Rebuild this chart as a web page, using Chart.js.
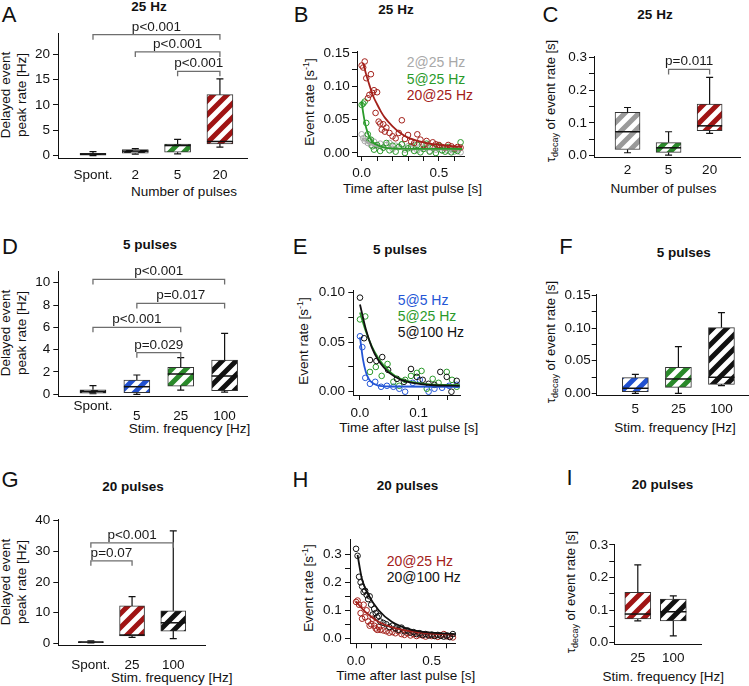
<!DOCTYPE html>
<html><head><meta charset="utf-8">
<script src="https://cdn.jsdelivr.net/npm/chart.js@4.4.1/dist/chart.umd.min.js"></script>
<style>
html,body{margin:0;padding:0;background:#fff;}
#fig{position:relative;width:749px;height:686px;overflow:hidden;background:#fff;font-family:"Liberation Sans",Arial,Helvetica,sans-serif;color:#111;}
#fig canvas{position:absolute;}
.t{position:absolute;white-space:nowrap;line-height:1;transform:translate(-50%,-50%);}
.L{font-size:22px;}
.T{font-size:13.5px;font-weight:bold;}
.X{font-size:13.5px;}
.R{font-size:13.5px;transform:translate(-50%,-50%) rotate(-90deg);}
.R2{font-size:13.5px;line-height:16px;text-align:center;transform:translate(-50%,-50%) rotate(-90deg);}
.tau{font-size:13px;}
.g{position:absolute;white-space:nowrap;font-size:14px;line-height:1;transform:translate(0,-50%);}
.sub{font-size:9px;position:relative;top:3px;}
.sup{font-size:9px;position:relative;top:-5px;}
</style></head><body><div id="fig">
<div class="t L" style="left:9px;top:15px">A</div>
<div class="t L" style="left:301px;top:15px">B</div>
<div class="t L" style="left:550.5px;top:15px">C</div>
<div class="t L" style="left:10px;top:247px">D</div>
<div class="t L" style="left:300px;top:247px">E</div>
<div class="t L" style="left:566px;top:247px">F</div>
<div class="t L" style="left:10px;top:480px">G</div>
<div class="t L" style="left:300.5px;top:480px">H</div>
<div class="t L" style="left:569.5px;top:478px">I</div>

<div class="t T" style="left:149px;top:7px">25 Hz</div>
<div class="t T" style="left:396px;top:9.5px">25 Hz</div>
<div class="t T" style="left:655px;top:14.5px">25 Hz</div>
<div class="t T" style="left:150px;top:244.5px">5 pulses</div>
<div class="t T" style="left:400px;top:249.5px">5 pulses</div>
<div class="t T" style="left:683.7px;top:252.7px">5 pulses</div>
<div class="t T" style="left:133px;top:486.5px">20 pulses</div>
<div class="t T" style="left:407.5px;top:485.7px">20 pulses</div>
<div class="t T" style="left:662.5px;top:485px">20 pulses</div>

<div class="t X" style="left:184px;top:191.5px">Number of pulses</div>
<div class="t X" style="left:412.5px;top:189px">Time after last pulse [s]</div>
<div class="t X" style="left:663.5px;top:189px">Number of pulses</div>
<div class="t X" style="left:189.5px;top:429px">Stim. frequency [Hz]</div>
<div class="t X" style="left:408.8px;top:428px">Time after last pulse [s]</div>
<div class="t X" style="left:675px;top:428px">Stim. frequency [Hz]</div>
<div class="t X" style="left:171.7px;top:678px">Stim. frequency [Hz]</div>
<div class="t X" style="left:405.8px;top:676px">Time after last pulse [s]</div>
<div class="t X" style="left:663.3px;top:677px">Stim. frequency [Hz]</div>

<div class="t R2" style="left:14px;top:95px">Delayed event<br>peak rate [Hz]</div>
<div class="t R2" style="left:14px;top:333px">Delayed event<br>peak rate [Hz]</div>
<div class="t R2" style="left:14px;top:581.5px">Delayed event<br>peak rate [Hz]</div>
<div class="t R" style="left:309.5px;top:101.7px">Event rate [s<span class="sup">-1</span>]</div>
<div class="t R" style="left:304px;top:341px">Event rate [s<span class="sup">-1</span>]</div>
<div class="t R" style="left:309px;top:587.5px">Event rate [s<span class="sup">-1</span>]</div>
<div class="t R tau" style="left:550px;top:101px">τ<span class="sub">decay</span> of event rate [s]</div>
<div class="t R tau" style="left:550px;top:342px">τ<span class="sub">decay</span> of event rate [s]</div>
<div class="t R tau" style="left:569.5px;top:592px">τ<span class="sub">decay</span> of event rate [s]</div>

<div class="g" style="left:406.7px;top:62px;color:#a8a8a8">2@25 Hz</div>
<div class="g" style="left:406.7px;top:79px;color:#2a9a2a">5@25 Hz</div>
<div class="g" style="left:406.7px;top:95px;color:#a3201a">20@25 Hz</div>
<div class="g" style="left:397.7px;top:300px;color:#2456d6">5@5 Hz</div>
<div class="g" style="left:397.7px;top:316px;color:#2a9a2a">5@25 Hz</div>
<div class="g" style="left:397.7px;top:332px;color:#111">5@100 Hz</div>
<div class="g" style="left:386.7px;top:560.5px;color:#a3201a">20@25 Hz</div>
<div class="g" style="left:386.7px;top:577px;color:#111">20@100 Hz</div>
</div>
<script>
// ================= DATA =================
// Panel A: 25 Hz, number of pulses
const aCats = ['Spont.', '2', '5', '20'];
const aQ1 = [0.1, 0.5, 0.7, 2.3];
const aQ3 = [0.45, 1.2, 2.3, 12.0];
const aMed = [0.3, 0.9, 2.0, 2.8];
const aLo = [0.0, 0.3, 0.35, 1.7];
const aHi = [0.8, 1.4, 3.2, 15.1];
const aSigFrom = [0, 1, 2], aSigTo = [3, 3, 3];
const aSigLevel = [23.8, 20.4, 16.6];
const aSigText = ['p<0.001', 'p<0.001', 'p<0.001'];
const aYTicks = [0, 5, 10, 15, 20];
const aYLabels = ['0', '5', '10', '15', '20'];

// Panel B: event rate, 25 Hz
const bRedT = [0.00,0.01,0.02,0.03,0.04,0.05,0.06,0.07,0.08,0.09,0.10,0.11,0.12,0.13,0.14,0.15,0.16,0.18,0.20,0.22,0.24,0.26,0.28,0.30,0.32,0.34,0.36,0.38,0.40,0.42,0.44,0.46,0.48,0.50,0.52,0.54,0.56,0.58,0.60,0.62,0.64];
const bRedY = [0.131,0.128,0.137,0.112,0.082,0.087,0.118,0.090,0.094,0.060,0.091,0.047,0.044,0.035,0.043,0.032,0.038,0.030,0.025,0.022,0.030,0.049,0.021,0.027,0.017,0.015,0.028,0.020,0.012,0.018,0.010,0.016,0.013,0.012,0.009,0.008,0.012,0.010,0.007,0.009,0.008];
const bGreenT = [0.00,0.01,0.02,0.03,0.04,0.05,0.06,0.07,0.08,0.10,0.12,0.14,0.16,0.18,0.20,0.22,0.24,0.26,0.28,0.30,0.32,0.34,0.36,0.38,0.40,0.42,0.44,0.46,0.48,0.50,0.52,0.54,0.56,0.58,0.60,0.62,0.64];
const bGreenY = [0.072,0.074,0.077,0.045,0.028,0.018,0.020,0.010,0.005,0.012,0.003,0.008,0.015,0.004,0.011,0.002,0.009,0.013,0.000,0.007,0.010,0.003,0.012,0.001,0.006,0.014,0.002,0.008,0.000,0.011,0.004,0.002,0.009,0.001,0.005,0.003,0.016];
const bGrayT = [0.00,0.01,0.02,0.03,0.04,0.05,0.06,0.08,0.10,0.12,0.14,0.16,0.18,0.20,0.22,0.24,0.26,0.28,0.30,0.32,0.34,0.36,0.38,0.40,0.42,0.44,0.46,0.48,0.50,0.52,0.54,0.56,0.58,0.60,0.62,0.64];
const bGrayY = [0.028,0.022,0.018,0.025,0.015,0.020,0.012,0.017,0.010,0.014,0.008,0.012,0.015,0.006,0.011,0.009,0.013,0.005,0.010,0.007,0.012,0.004,0.009,0.006,0.011,0.003,0.008,0.005,0.010,0.004,0.007,0.003,0.006,0.002,0.005,0.001];
const bRedFitT = [0.01,0.03,0.05,0.075,0.10,0.125,0.15,0.20,0.25,0.30,0.35,0.40,0.50,0.65];
const bRedFitY = [0.135,0.117,0.102,0.085,0.073,0.062,0.053,0.040,0.030,0.023,0.019,0.016,0.012,0.009];
const bGreenFitT = [0.00,0.01,0.02,0.03,0.045,0.06,0.08,0.11,0.15,0.25,0.65];
const bGreenFitY = [0.077,0.060,0.047,0.037,0.027,0.020,0.015,0.011,0.008,0.0065,0.006];
const bGrayFitT = [0.00,0.05,0.10,0.20,0.30,0.65];
const bGrayFitY = [0.022,0.014,0.010,0.007,0.006,0.005];
const bXTicks = [0.0,0.1,0.2,0.3,0.4,0.5,0.6], bXLabels = ['0.0','','','','','0.5',''];
const bYTicks = [0,0.025,0.05,0.075,0.1,0.125,0.15], bYLabels = ['0.00','','0.05','','0.10','','0.15'];

// Panel C: tau decay, 25 Hz
const cCats = ['2', '5', '20'];
const cQ1 = [0.019, 0.010, 0.076];
const cQ3 = [0.132, 0.040, 0.157];
const cMed = [0.073, 0.024, 0.091];
const cLo = [0.009, 0.002, 0.068];
const cHi = [0.147, 0.073, 0.239];
const cSigFrom = [1], cSigTo = [2], cSigLevel = [0.263], cSigText = ['p=0.011'];
const cYTicks = [0,0.05,0.1,0.15,0.2,0.25,0.3], cYLabels = ['0.0','','0.1','','0.2','','0.3'];

// Panel D: 5 pulses, stim. frequency
const dCats = ['Spont.', '5', '25', '100'];
const dQ1 = [0.1, 0.15, 0.74, 0.33];
const dQ3 = [0.4, 1.28, 2.42, 3.07];
const dMed = [0.25, 0.68, 1.82, 1.64];
const dLo = [0.05, 0.0, 0.38, 0.2];
const dHi = [0.77, 1.73, 3.28, 5.46];
const dSigFrom = [0, 1, 0, 1], dSigTo = [3, 3, 2, 2];
const dSigLevel = [10.3, 8.15, 6.0, 3.73];
const dSigText = ['p<0.001', 'p=0.017', 'p<0.001', 'p=0.029'];
const dYTicks = [0, 2, 4, 6, 8, 10], dYLabels = ['0','2','4','6','8','10'];

// Panel E: event rate, 5 pulses
const eBlackT = [0.000,0.007,0.017,0.028,0.038,0.048,0.063,0.075,0.087,0.097,0.107,0.117,0.127,0.137,0.148,0.156,0.165];
const eBlackY = [0.095,0.054,0.032,0.031,0.035,0.022,0.013,0.010,0.023,0.015,0.012,0.008,0.007,0.020,0.015,0.000,0.011];
const eGreenT = [0.000,0.009,0.017,0.027,0.037,0.047,0.057,0.067,0.077,0.087,0.097,0.105,0.114,0.124,0.134,0.148,0.157,0.165];
const eGreenY = [0.073,0.076,0.020,0.025,0.016,0.028,0.010,0.006,0.012,0.016,0.019,0.021,0.003,0.013,0.009,0.020,0.012,0.005];
const eBlueT = [0.000,0.004,0.009,0.017,0.026,0.036,0.046,0.057,0.067,0.077,0.090,0.102,0.117,0.127,0.140,0.152,0.165];
const eBlueY = [0.056,0.045,0.014,0.008,0.010,0.005,0.006,0.005,0.003,0.000,0.009,0.012,0.000,0.003,0.004,0.006,0.007];
const eBlackFitT = [0,0.01,0.02,0.03,0.04,0.05,0.07,0.09,0.12,0.17];
const eBlackFitY = [0.088,0.063,0.045,0.033,0.025,0.019,0.012,0.009,0.0068,0.006];
const eGreenFitT = [0,0.01,0.02,0.03,0.04,0.06,0.08,0.11,0.17];
const eGreenFitY = [0.080,0.061,0.046,0.035,0.027,0.016,0.011,0.008,0.0065];
const eBlueFitT = [0,0.005,0.01,0.015,0.02,0.03,0.05,0.17];
const eBlueFitY = [0.055,0.033,0.020,0.013,0.0095,0.0065,0.0053,0.005];
const eXTicks = [0,0.05,0.1,0.15], eXLabels = ['0.0','','0.1',''];
const eYTicks = [0,0.025,0.05,0.075,0.1], eYLabels = ['0.00','','0.05','','0.10'];

// Panel F: tau decay, 5 pulses
const fCats = ['5', '25', '100'];
const fQ1 = [0.0025, 0.0092, 0.0138];
const fQ3 = [0.024, 0.040, 0.101];
const fMed = [0.0077, 0.022, 0.0246];
const fLo = [0.0, 0.0, 0.0117];
const fHi = [0.029, 0.0717, 0.124];
const fYTicks = [0,0.025,0.05,0.075,0.1,0.125,0.15], fYLabels = ['0.00','','0.05','','0.10','','0.15'];

// Panel G: 20 pulses, stim. frequency
const gCats = ['Spont.', '25', '100'];
const gQ1 = [0.2, 2.4, 4.0];
const gQ3 = [0.6, 12.2, 10.6];
const gMed = [0.4, 2.7, 6.7];
const gLo = [0.1, 1.96, 1.5];
const gHi = [0.8, 15.2, 36.7];
const gSigFrom = [0, 0], gSigTo = [2, 1], gSigLevel = [32.8, 26.9], gSigText = ['p<0.001', 'p=0.07'];
const gYTicks = [0, 10, 20, 30, 40], gYLabels = ['0','10','20','30','40'];

// Panel H: event rate, 20 pulses
const hBlackT = [0.00,0.01,0.02,0.03,0.04,0.05,0.06,0.07,0.08,0.09,0.10,0.11,0.12,0.13,0.14,0.15,0.16,0.18,0.20,0.22,0.24,0.26,0.28,0.30,0.32,0.34,0.36,0.38,0.40,0.42,0.44,0.46,0.48,0.50,0.52,0.54,0.56,0.58,0.60,0.62,0.64];
const hBlackY = [0.320,0.295,0.220,0.200,0.185,0.165,0.170,0.155,0.140,0.150,0.120,0.085,0.105,0.090,0.075,0.080,0.060,0.055,0.050,0.040,0.045,0.035,0.030,0.038,0.025,0.028,0.020,0.022,0.015,0.018,0.012,0.015,0.010,0.013,0.008,0.012,0.009,0.006,0.010,0.004,0.015];
const hRedT = [0.00,0.01,0.02,0.03,0.04,0.05,0.06,0.07,0.08,0.09,0.10,0.11,0.12,0.13,0.14,0.15,0.16,0.18,0.20,0.22,0.24,0.26,0.28,0.30,0.32,0.34,0.36,0.38,0.40,0.42,0.44,0.46,0.48,0.50,0.52,0.54,0.56,0.58,0.60,0.62,0.64];
const hRedY = [0.130,0.135,0.120,0.090,0.070,0.120,0.075,0.100,0.060,0.045,0.050,0.070,0.045,0.035,0.030,0.040,0.030,0.028,0.025,0.020,0.022,0.018,0.025,0.015,0.012,0.018,0.010,0.015,0.008,0.012,0.010,0.006,0.012,0.008,0.010,0.005,0.009,0.015,0.007,0.006,0.003];
const hBlackFitT = [0.01,0.038,0.082,0.148,0.236,0.368,0.50,0.654];
const hBlackFitY = [0.298,0.214,0.155,0.101,0.059,0.030,0.020,0.015];
const hRedFitT = [0.0,0.03,0.06,0.10,0.148,0.20,0.258,0.35,0.478,0.65];
const hRedFitY = [0.132,0.112,0.095,0.077,0.059,0.046,0.036,0.026,0.018,0.014];
const hXTicks = [0.0,0.1,0.2,0.3,0.4,0.5,0.6], hXLabels = ['0.0','','','','','0.5',''];
const hYTicks = [0,0.05,0.1,0.15,0.2,0.25,0.3], hYLabels = ['0.0','','0.1','','0.2','','0.3'];

// Panel I: tau decay, 20 pulses
const iCats = ['25', '100'];
const iQ1 = [0.073, 0.067];
const iQ3 = [0.155, 0.134];
const iMed = [0.088, 0.095];
const iLo = [0.067, 0.021];
const iHi = [0.239, 0.144];
const iYTicks = [0,0.05,0.1,0.15,0.2,0.25,0.3], iYLabels = ['0.0','','0.1','','0.2','','0.3'];

// ================= STYLE / LAYOUT =================
const FF = '"Liberation Sans", Arial, sans-serif';
const RED = '#a3201a', GREEN = '#2a9a2a', GRAY = '#a8a8a8', BLUE = '#2456d6', BLACK = '#111111';
const BOXRED = '#a01414', BOXGREEN = '#2a8a2a', BOXBLUE = '#2050d0', BOXGRAY = '#9a9a9a';
Chart.defaults.font.family = FF;
Chart.defaults.font.size = 13.5;
Chart.defaults.color = '#111';

const GEO = {
  A: {canvas: [0, 0, 250, 205], area: [58, 33, 247, 158]},
  B: {canvas: [250, 0, 500, 205], area: [357, 51.5, 464, 156]},
  C: {canvas: [500, 0, 749, 205], area: [594, 56, 740, 157]},
  D: {canvas: [0, 205, 250, 440], area: [58.3, 271.7, 247, 396.7]},
  E: {canvas: [250, 205, 500, 440], area: [353.3, 290, 460, 395]},
  F: {canvas: [500, 205, 749, 440], area: [596.7, 294, 749, 395.3]},
  G: {canvas: [0, 440, 250, 686], area: [58.3, 519.3, 205, 645]},
  H: {canvas: [250, 440, 500, 686], area: [350, 539.3, 455, 643.3]},
  I: {canvas: [500, 440, 749, 686], area: [614.3, 544, 701.7, 644]}
};

function makeCanvas(id, c) {
  const cv = document.createElement('canvas');
  cv.id = id;
  cv.width = c[2] - c[0]; cv.height = c[3] - c[1];
  cv.style.left = c[0] + 'px'; cv.style.top = c[1] + 'px';
  cv.style.width = cv.width + 'px'; cv.style.height = cv.height + 'px';
  document.getElementById('fig').appendChild(cv);
  return cv;
}

function stripes(color) {
  const s = 14;
  const c = document.createElement('canvas');
  c.width = s; c.height = s;
  const g = c.getContext('2d');
  g.fillStyle = '#fff'; g.fillRect(0, 0, s, s);
  g.strokeStyle = color; g.lineWidth = 5; g.lineCap = 'square';
  g.beginPath();
  g.moveTo(-s / 2, s / 2); g.lineTo(s / 2, -s / 2);
  g.moveTo(0, s); g.lineTo(s, 0);
  g.moveTo(s / 2, s * 1.5); g.lineTo(s * 1.5, s / 2);
  g.stroke();
  return g.createPattern(c, 'repeat');
}

function baseOpts(g) {
  return {
    responsive: false, animation: false, devicePixelRatio: 1, events: [],
    layout: {padding: {left: 0, top: g.area[1] - g.canvas[1], right: g.canvas[2] - g.area[2], bottom: 0}},
    plugins: {legend: {display: false}, tooltip: {enabled: false}, title: {display: false}}
  };
}

function yAxis(g, range, vals, labels, pad) {
  return {
    type: 'linear', min: range[0], max: range[1],
    afterBuildTicks: s => { s.ticks = vals.map(v => ({value: v})); },
    ticks: {autoSkip: false, padding: pad, color: '#111', font: {size: 13.5, family: FF},
      callback: v => { const k = vals.indexOf(v); return k < 0 ? '' : labels[k]; }},
    grid: {drawOnChartArea: false, drawTicks: true, tickLength: 5, color: '#111', lineWidth: 1},
    border: {display: true, color: '#111', width: 1},
    afterFit: s => { s.width = g.area[0] - g.canvas[0]; }
  };
}

function boxPanel(id, g, d, ax) {
  const cv = makeCanvas(id, g.canvas);
  const data = d.cats.map((c, i) => ({x: i, y: [d.q1[i], d.q3[i]]}));
  const extras = {
    id: 'boxExtras',
    afterDatasetsDraw(chart) {
      const ctx = chart.ctx, xs = chart.scales.x, ys = chart.scales.y;
      const meta = chart.getDatasetMeta(0);
      ctx.save();
      ctx.strokeStyle = '#111';
      d.cats.forEach((c, i) => {
        const bar = meta.data[i];
        const x = bar.x, hw = bar.width / 2;
        const yq1 = ys.getPixelForValue(d.q1[i]), yq3 = ys.getPixelForValue(d.q3[i]);
        const yl = ys.getPixelForValue(d.lo[i]), yh = ys.getPixelForValue(d.hi[i]);
        const ym = ys.getPixelForValue(d.med[i]);
        ctx.lineWidth = 1.2;
        ctx.beginPath();
        ctx.moveTo(x, Math.min(yq1, yq3)); ctx.lineTo(x, yh);
        ctx.moveTo(x - 3.5, yh); ctx.lineTo(x + 3.5, yh);
        ctx.moveTo(x, Math.max(yq1, yq3)); ctx.lineTo(x, yl);
        ctx.moveTo(x - 3.5, yl); ctx.lineTo(x + 3.5, yl);
        ctx.stroke();
        ctx.lineWidth = 1.5;
        ctx.beginPath(); ctx.moveTo(x - hw, ym); ctx.lineTo(x + hw, ym); ctx.stroke();
      });
      if (d.sig) {
        ctx.strokeStyle = '#6e6e6e'; ctx.lineWidth = 1.3;
        ctx.fillStyle = '#1a1a1a'; ctx.font = '13.5px ' + FF;
        ctx.textAlign = 'center'; ctx.textBaseline = 'alphabetic';
        d.sig.from.forEach((f, k) => {
          const x1 = xs.getPixelForValue(f), x2 = xs.getPixelForValue(d.sig.to[k]);
          const y = ys.getPixelForValue(d.sig.level[k]);
          ctx.beginPath();
          ctx.moveTo(x1, y + 5); ctx.lineTo(x1, y); ctx.lineTo(x2, y); ctx.lineTo(x2, y + 5);
          ctx.stroke();
          ctx.fillText(d.sig.text[k], (x1 + x2) / 2, y - 4);
        });
      }
      ctx.restore();
    }
  };
  const opts = baseOpts(g);
  opts.scales = {
    x: {
      type: 'linear', min: ax.x[0], max: ax.x[1], offset: false,
      afterBuildTicks: s => { s.ticks = d.cats.map((c, i) => ({value: i})); },
      ticks: {autoSkip: false, maxRotation: 0, minRotation: 0, padding: ax.xPad, color: '#111',
        font: ax.drop ? {size: 13.5, family: FF, lineHeight: '10px'} : {size: 13.5, family: FF},
        callback: v => ax.drop ? (v === 0 ? [d.cats[v]] : ['', d.cats[v]]) : d.cats[v]},
      grid: {display: false, drawTicks: false, tickLength: 0, offset: false},
      border: {display: true, color: '#111', width: 1},
      afterFit: s => { s.height = g.canvas[3] - g.area[3]; }
    },
    y: yAxis(g, ax.y, ax.yTicks, ax.yLabels, ax.yPad)
  };
  new Chart(cv, {
    type: 'bar',
    data: {datasets: [{
      data: data,
      backgroundColor: d.colors.map(stripes),
      borderColor: '#333', borderWidth: 1, borderSkipped: false,
      barThickness: ax.barW, clip: false
    }]},
    options: opts,
    plugins: [extras]
  });
}

function scatterPanel(id, g, series, ax) {
  const cv = makeCanvas(id, g.canvas);
  const ds = [];
  series.forEach((s, k) => {
    ds.push({label: s.name + ' fit', data: s.fitT.map((t, i) => ({x: t, y: s.fitY[i]})),
      showLine: true, borderColor: s.color, borderWidth: 1.8, pointRadius: 0,
      cubicInterpolationMode: 'monotone', fill: false, clip: false, order: 0});
    ds.push({label: s.name, data: s.t.map((t, i) => ({x: t, y: s.y[i]})),
      showLine: false, pointRadius: 2.8, pointBorderColor: s.color,
      pointBackgroundColor: 'rgba(255,255,255,0)', pointBorderWidth: 1, clip: false, order: k + 1});
  });
  const opts = baseOpts(g);
  opts.scales = {
    x: {
      type: 'linear', min: ax.x[0], max: ax.x[1],
      afterBuildTicks: s => { s.ticks = ax.xTicks.map(v => ({value: v})); },
      ticks: {autoSkip: false, maxRotation: 0, padding: ax.xPad, color: '#111', font: {size: 13.5, family: FF},
        callback: v => { const k = ax.xTicks.indexOf(v); return k < 0 ? '' : ax.xLabels[k]; }},
      grid: {drawOnChartArea: false, drawTicks: true, tickLength: 5, color: '#111'},
      border: {display: true, color: '#111', width: 1},
      afterFit: s => { s.height = g.canvas[3] - g.area[3]; }
    },
    y: yAxis(g, ax.y, ax.yTicks, ax.yLabels, ax.yPad)
  };
  new Chart(cv, {type: 'scatter', data: {datasets: ds}, options: opts});
}

// ================= BUILD =================
boxPanel('cA', GEO.A,
  {cats: aCats, q1: aQ1, q3: aQ3, med: aMed, lo: aLo, hi: aHi,
   colors: [BLACK, BLACK, BOXGREEN, BOXRED],
   sig: {from: aSigFrom, to: aSigTo, level: aSigLevel, text: aSigText}},
  {x: [-0.827, 3.64], y: [-0.45, 24.13], yTicks: aYTicks, yLabels: aYLabels, xPad: 8.9, yPad: 3, barW: 26});

scatterPanel('cB', GEO.B, [
  {name: '20@25 Hz', t: bRedT, y: bRedY, fitT: bRedFitT, fitY: bRedFitY, color: RED},
  {name: '5@25 Hz', t: bGreenT, y: bGreenY, fitT: bGreenFitT, fitY: bGreenFitY, color: GREEN},
  {name: '2@25 Hz', t: bGrayT, y: bGrayY, fitT: bGrayFitT, fitY: bGrayFitY, color: GRAY}
], {x: [-0.030, 0.662], y: [-0.0045, 0.152], xTicks: bXTicks, xLabels: bXLabels,
    yTicks: bYTicks, yLabels: bYLabels, xPad: 4.2, yPad: 2.3});

boxPanel('cC', GEO.C,
  {cats: cCats, q1: cQ1, q3: cQ3, med: cMed, lo: cLo, hi: cHi,
   colors: [BOXGRAY, BOXGREEN, BOXRED],
   sig: {from: cSigFrom, to: cSigTo, level: cSigLevel, text: cSigText}},
  {x: [-0.817, 2.74], y: [-0.004, 0.304], yTicks: cYTicks, yLabels: cYLabels, xPad: 4.9, yPad: 2, barW: 25});

boxPanel('cD', GEO.D,
  {cats: dCats, q1: dQ1, q3: dQ3, med: dMed, lo: dLo, hi: dHi,
   colors: [BLACK, BOXBLUE, BOXGREEN, BLACK],
   sig: {from: dSigFrom, to: dSigTo, level: dSigLevel, text: dSigText}},
  {x: [-0.79, 3.51], y: [-0.215, 10.99], yTicks: dYTicks, yLabels: dYLabels, xPad: 5, yPad: 3, barW: 26, drop: true});

scatterPanel('cE', GEO.E, [
  {name: '5@100 Hz', t: eBlackT, y: eBlackY, fitT: eBlackFitT, fitY: eBlackFitY, color: BLACK},
  {name: '5@25 Hz', t: eGreenT, y: eGreenY, fitT: eGreenFitT, fitY: eGreenFitY, color: GREEN},
  {name: '5@5 Hz', t: eBlueT, y: eBlueY, fitT: eBlueFitT, fitY: eBlueFitY, color: BLUE}
], {x: [-0.0114, 0.1706], y: [-0.0033, 0.1027], xTicks: eXTicks, xLabels: eXLabels,
    yTicks: eYTicks, yLabels: eYLabels, xPad: 5.2, yPad: 3.3});

boxPanel('cF', GEO.F,
  {cats: fCats, q1: fQ1, q3: fQ3, med: fMed, lo: fLo, hi: fHi,
   colors: [BOXBLUE, BOXGREEN, BLACK]},
  {x: [-0.898, 2.64], y: [-0.0031, 0.1526], yTicks: fYTicks, yLabels: fYLabels, xPad: 5.6, yPad: 1, barW: 26});

boxPanel('cG', GEO.G,
  {cats: gCats, q1: gQ1, q3: gQ3, med: gMed, lo: gLo, hi: gHi,
   colors: [BLACK, BOXRED, BLACK],
   sig: {from: gSigFrom, to: gSigTo, level: gSigLevel, text: gSigText}},
  {x: [-0.79, 2.77], y: [-0.55, 40.46], yTicks: gYTicks, yLabels: gYLabels, xPad: 11.9, yPad: 3, barW: 25});

scatterPanel('cH', GEO.H, [
  {name: '20@100 Hz', t: hBlackT, y: hBlackY, fitT: hBlackFitT, fitY: hBlackFitY, color: BLACK},
  {name: '20@25 Hz', t: hRedT, y: hRedY, fitT: hRedFitT, fitY: hRedFitY, color: RED}
], {x: [-0.04, 0.654], y: [-0.018, 0.354], xTicks: hXTicks, xLabels: hXLabels,
    yTicks: hYTicks, yLabels: hYLabels, xPad: 4.6, yPad: 3.3});

boxPanel('cI', GEO.I,
  {cats: iCats, q1: iQ1, q3: iQ3, med: iMed, lo: iLo, hi: iHi,
   colors: [BOXRED, BLACK]},
  {x: [-0.662, 1.8], y: [-0.004, 0.303], yTicks: iYTicks, yLabels: iYLabels, xPad: 6.2, yPad: 1, barW: 26});
</script></body></html>
